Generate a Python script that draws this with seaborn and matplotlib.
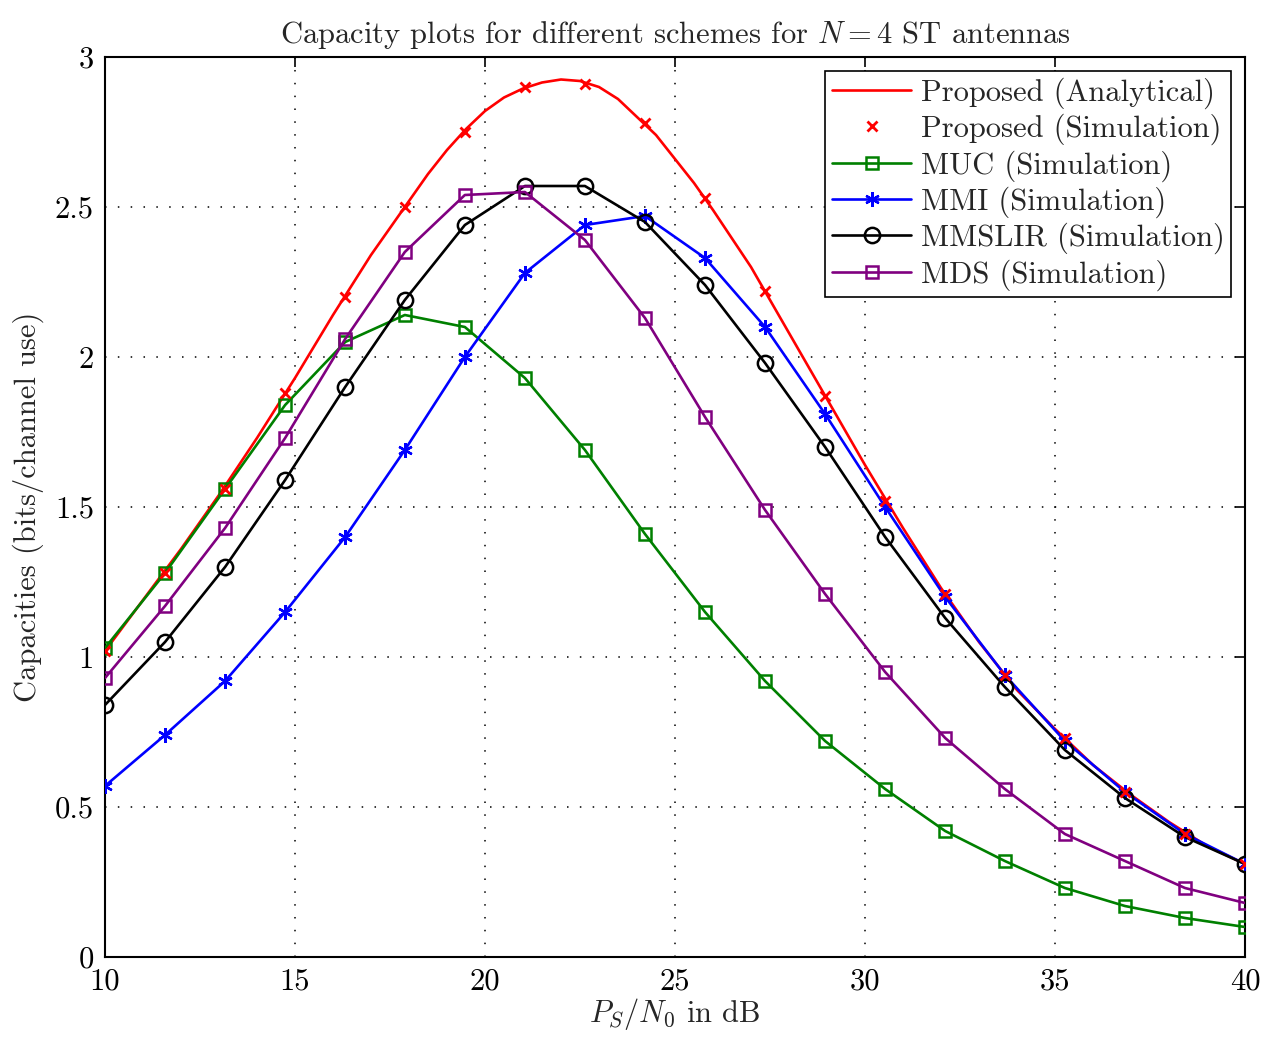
import numpy as np
import pandas as pd
import matplotlib
matplotlib.use("Agg")
import matplotlib.pyplot as plt
import seaborn as sns

# ---------------- data ----------------
snr_sim = [10.0, 11.58, 13.16, 14.74, 16.32, 17.89, 19.47, 21.05, 22.63, 24.21,
           25.79, 27.37, 28.95, 30.53, 32.11, 33.68, 35.26, 36.84, 38.42, 40.0]

snr_ana = [10, 11, 12, 13, 14, 15, 16, 17, 18, 18.5, 19, 19.5, 20, 20.5, 21, 21.5,
           22, 22.5, 23, 23.5, 24, 24.5, 25, 25.5, 26, 27, 28, 29, 30, 31, 32, 33,
           34, 35, 36, 37, 38, 39, 40]
proposed_analytical = [1.02, 1.19, 1.36, 1.54, 1.73, 1.93, 2.14, 2.34, 2.52, 2.61,
                       2.69, 2.76, 2.82, 2.865, 2.895, 2.915, 2.925, 2.92, 2.90, 2.86,
                       2.80, 2.74, 2.66, 2.58, 2.49, 2.30, 2.08, 1.86, 1.64, 1.43,
                       1.23, 1.05, 0.89, 0.76, 0.64, 0.54, 0.45, 0.37, 0.31]

proposed_sim = [1.02, 1.28, 1.56, 1.88, 2.20, 2.50, 2.75, 2.90, 2.91, 2.78,
                2.53, 2.22, 1.87, 1.52, 1.21, 0.94, 0.73, 0.55, 0.41, 0.31]
muc_sim = [1.03, 1.28, 1.56, 1.84, 2.05, 2.14, 2.10, 1.93, 1.69, 1.41,
           1.15, 0.92, 0.72, 0.56, 0.42, 0.32, 0.23, 0.17, 0.13, 0.10]
mmi_sim = [0.57, 0.74, 0.92, 1.15, 1.40, 1.69, 2.00, 2.28, 2.44, 2.47,
           2.33, 2.10, 1.81, 1.50, 1.20, 0.94, 0.72, 0.55, 0.41, 0.31]
mmslir_sim = [0.84, 1.05, 1.30, 1.59, 1.90, 2.19, 2.44, 2.57, 2.57, 2.45,
              2.24, 1.98, 1.70, 1.40, 1.13, 0.90, 0.69, 0.53, 0.40, 0.31]
mds_sim = [0.93, 1.17, 1.43, 1.73, 2.06, 2.35, 2.54, 2.55, 2.39, 2.13,
           1.80, 1.49, 1.21, 0.95, 0.73, 0.56, 0.41, 0.32, 0.23, 0.18]

labels = ["Proposed (Analytical)", "Proposed (Simulation)", "MUC (Simulation)",
          "MMI (Simulation)", "MMSLIR (Simulation)", "MDS (Simulation)"]
x_ticks = [10, 15, 20, 25, 30, 35, 40]
y_ticks = [0, 0.5, 1, 1.5, 2, 2.5, 3]
y_tick_labels = ["0", "0.5", "1", "1.5", "2", "2.5", "3"]

# ---------------- style ----------------
sns.set_theme(style="white")
plt.rcParams['font.family'] = ['cmr10', 'DejaVu Serif']
plt.rcParams['mathtext.fontset'] = 'cm'
plt.rcParams['axes.unicode_minus'] = False
plt.rcParams['axes.formatter.use_mathtext'] = True

fs = 22

fig = plt.figure(figsize=(12.71, 10.38), dpi=100)
ax = fig.add_axes([105/1271, 1 - 957/1038, (1245-105)/1271, (957-57)/1038])

lw = 1.9
df_ana = pd.DataFrame({"x": snr_ana, "y": proposed_analytical})
sns.lineplot(data=df_ana, x="x", y="y", ax=ax, color="red", lw=lw,
             label=labels[0], zorder=3)

df_ps = pd.DataFrame({"x": snr_sim, "y": proposed_sim})
sns.lineplot(data=df_ps, x="x", y="y", ax=ax, color="red", lw=0,
             marker="x", markersize=7.5, markeredgewidth=2.0,
             markeredgecolor="red", linestyle="none",
             label=labels[1], zorder=4)

specs = [
    (muc_sim, "#008000", "s", 8.5, 1.8, labels[2]),
    (mmi_sim, "#0000ff", (6, 2, 0), 10.5, 1.7, labels[3]),
    (mmslir_sim, "black", "o", 11, 1.8, labels[4]),
    (mds_sim, "#800080", "s", 8.5, 1.8, labels[5]),
]
for vals, col, mk, ms, mew, lab in specs:
    d = pd.DataFrame({"x": snr_sim, "y": vals})
    sns.lineplot(data=d, x="x", y="y", ax=ax, color=col, lw=lw,
                 marker=mk, markersize=ms, markeredgewidth=mew,
                 markerfacecolor="none", markeredgecolor=col,
                 label=lab, zorder=3)

ax.set_xlim(10, 40)
ax.set_ylim(0, 3)
ax.set_xticks(x_ticks)
ax.set_yticks(y_ticks)
ax.set_yticklabels(y_tick_labels)
ax.set_xticklabels([str(t) for t in x_ticks])
ax.tick_params(axis="both", which="both", direction="in", length=7, width=1.2,
               top=True, right=True, labelsize=fs, pad=8, colors="black")
ax.grid(True, linestyle=(0, (1, 7.4)), color="black", linewidth=1.1)
for sp in ax.spines.values():
    sp.set_color("black")
    sp.set_linewidth(1.5)

ax.set_xlabel(r"$P_S/N_0$ in dB", fontsize=fs, labelpad=0)
ax.set_ylabel("Capacities (bits/channel use)", fontsize=fs, labelpad=8)
ax.set_title(r"Capacity plots for different schemes for $N = 4$ ST antennas",
             fontsize=fs, pad=10)

leg = ax.legend(loc="upper right", fontsize=fs, frameon=True, fancybox=False,
                edgecolor="black", framealpha=1, borderpad=0.22,
                labelspacing=0.16, handlelength=2.6, handletextpad=0.3,
                borderaxespad=0.45)
leg.get_frame().set_linewidth(1.2)

fig.savefig("out.png", dpi=100)
